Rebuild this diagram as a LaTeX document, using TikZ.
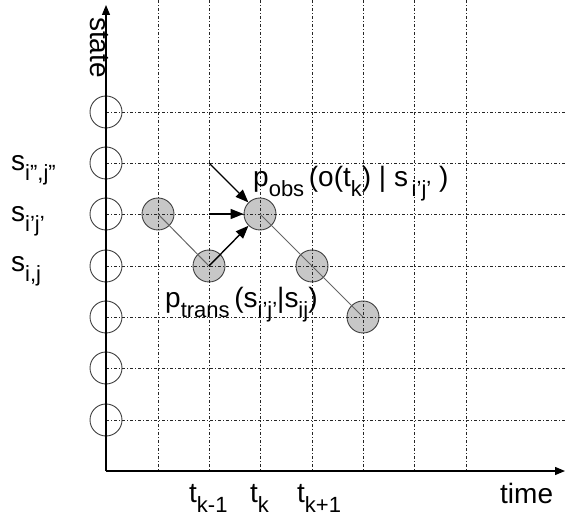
\documentclass[tikz,border=0pt]{standalone}
\usepackage{fontspec}
\setmainfont{Liberation Sans}
\usetikzlibrary{arrows.meta}
\newcommand\sbs[1]{\raisebox{-10pt}{\fontsize{22}{22}\selectfont #1}}
\begin{document}
\begin{tikzpicture}[x=1pt,y=-1pt,
  gridline/.style={line width=0.9pt, dash pattern=on 3pt off 2pt on 1pt off 2pt, black!85},
  opencirc/.style={circle, draw=black!75, line width=0.9pt, minimum size=32pt, inner sep=0pt},
  greycirc/.style={opencirc, fill=black!22},
  lbl/.style={font=\fontsize{28}{30}\selectfont, inner sep=0pt, anchor=base west},
  conn/.style={draw=black!60, line width=1pt},
  axis/.style={line width=1.2pt, -{Triangle[length=10pt,width=8pt]}},
  arr/.style={line width=1.4pt, -{Triangle[length=13pt,width=10pt]}}]
\useasboundingbox (0,0) rectangle (565,518);
% circles on the axis
\foreach \y [count=\i] in {112,163,214,266,317,368,420}
  \node[opencirc] (o\i) at (106,\y) {};
% grey state circles
\node[greycirc] (g1) at (158,214) {};
\node[greycirc] (g2) at (209,266) {};
\node[greycirc] (g3) at (260,214) {};
\node[greycirc] (g4) at (312,266) {};
\node[greycirc] (g5) at (363,317) {};
% grid
\foreach \x in {158,209,260,312,363,414,466}
  \draw[gridline] (\x,0) -- (\x,471);
\foreach \y in {112,163,214,266,317,368,420}
  \draw[gridline] (106,\y) -- (565,\y);
% axes
\coordinate (O) at (106,471);
\coordinate (ytop) at (106,5);
\coordinate (xend) at (565,471);
\draw[axis] (O) -- (ytop);
\draw[axis] (O) -- (xend);
% path
\draw[conn] (g1.center) -- (g2.center);
\draw[conn] (g3.center) -- (g4.center) -- (g5.center);
\coordinate (a1) at (209,163);
\coordinate (a2) at (209,214);
\draw[arr] (a1) -- (g3);
\draw[arr] (a2) -- (g3);
\draw[arr] (g2.center) -- (g3);
% labels
\node[lbl, rotate=-90] (st) at (90,17) {state};
\node[lbl] (s1) at (11,171) {s\sbs{i'',j''}};
\node[lbl] (s2) at (11,222) {s\sbs{i'j'}};
\node[lbl] (s3) at (11,272) {s\sbs{i,j}};
\node[lbl] (pobs) at (253,187) {p\sbs{obs}\,(o(t\sbs{k}) | s\sbs{\,i'j'} )};
\node[lbl] (ptrans) at (165,308) {p\sbs{trans}\,(s\sbs{i'j'}|s\sbs{ij})};
\node[lbl] (t1) at (189,502) {t\sbs{k-1}};
\node[lbl] (t2) at (250,502) {t\sbs{k}};
\node[lbl] (t3) at (297,502) {t\sbs{k+1}};
\node[lbl] (time) at (500,503) {time};
\end{tikzpicture}
\end{document}
